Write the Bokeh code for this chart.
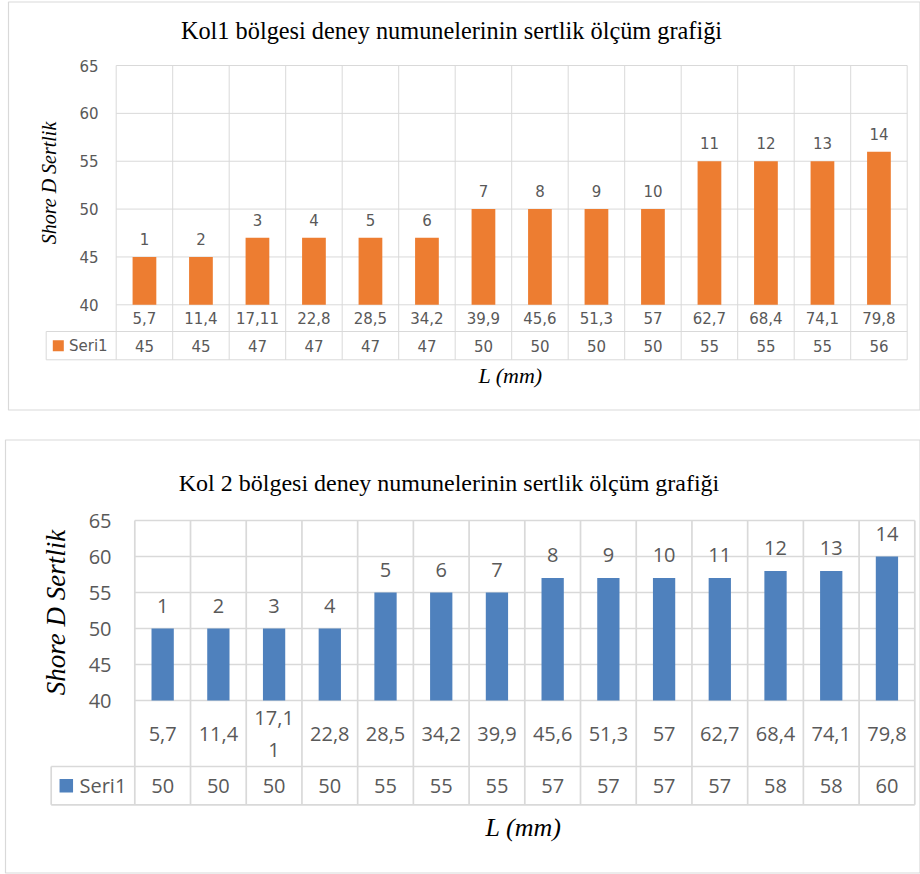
import math

from bokeh.core.properties import value
from bokeh.embed import file_html
from bokeh.models import Range1d
from bokeh.plotting import figure
from bokeh.resources import INLINE

# ---------------------------------------------------------------- data
kol1_title = "Kol1 bölgesi deney numunelerinin sertlik ölçüm grafiği"
kol2_title = "Kol 2 bölgesi deney numunelerinin sertlik ölçüm grafiği"

kol1_L = ["5,7", "11,4", "17,11", "22,8", "28,5", "34,2", "39,9",
          "45,6", "51,3", "57", "62,7", "68,4", "74,1", "79,8"]
kol1_hardness = [45, 45, 47, 47, 47, 47, 50, 50, 50, 50, 55, 55, 55, 56]

kol2_L = ["5,7", "11,4", "17,11", "22,8", "28,5", "34,2", "39,9",
          "45,6", "51,3", "57", "62,7", "68,4", "74,1", "79,8"]
kol2_hardness = [50, 50, 50, 50, 55, 55, 55, 57, 57, 57, 57, 58, 58, 60]

sample_ids = ["1", "2", "3", "4", "5", "6", "7",
              "8", "9", "10", "11", "12", "13", "14"]
y_ticks = [40, 45, 50, 55, 60, 65]
series_name = "Seri1"
y_title = "Shore D Sertlik"
x_title = "L (mm)"

# ---------------------------------------------------------------- page
W, H = 920, 874
GRID = "#D9D9D9"
TXT = "#595959"
SERIF = value("Liberation Serif")

p = figure(width=W, height=H, output_backend="svg", toolbar_location=None,
           x_axis_location=None, y_axis_location=None, min_border=0,
           outline_line_color=None, background_fill_color="white",
           border_fill_color="white",
           x_range=Range1d(0, W), y_range=Range1d(H, 0))
p.grid.visible = False

# chart layouts in page pixels (left, right, top, bottom)
kol1_layout = dict(
    box=(8, 919.5, 1.5, 409.5), plot=(115.7, 906.7, 65, 304.3),
    rows=(304.3, 331.0, 359.3), table_left=45.7,
    font=value("DejaVu Sans"), fsize="15px", grid_w=1.0,
    label_gap=-18, tick_right=98, swatch=(57.8, 11), seri_x=68.5,
    title_xy=(451, 30), title_size="24.3px",
    xt_xy=(510, 375), xt_size="22px", yt_xy=(48.5, 182.5), yt_size="20px",
    bar_w=0.42, wrap=99, line_h=1.2,
)
kol2_layout = dict(
    box=(5, 919.5, 439.5, 872.5), plot=(134.3, 914.3, 520, 700),
    rows=(700.0, 766.0, 804.3), table_left=50.7,
    font=value("Open Sans"), fsize="20px", grid_w=1.7,
    label_gap=-23, tick_right=111, swatch=(65.8, 13.5), seri_x=79,
    title_xy=(448.5, 482), title_size="24px",
    xt_xy=(523, 827), xt_size="26px", yt_xy=(55, 612), yt_size="27px",
    bar_w=0.40, wrap=4, line_h=1.22,
)


def wrap_label(s, n):
    return s if len(s) <= n else s[:n] + "\n" + s[n:]


def draw_chart(name, cfg, title, L, vals, color):
    n = len(vals)
    l, r, t, b = cfg["plot"]
    ymin, ymax = y_ticks[0], y_ticks[-1]

    # data ranges mapped onto this chart's plot box
    sx = (r - l) / n
    ky = (b - t) / (ymax - ymin)
    xr, yr = name + "_x", name + "_y"
    p.extra_x_ranges[xr] = Range1d(-l / sx, n + (W - r) / sx)
    p.extra_y_ranges[yr] = Range1d(ymin - (H - b) / ky, ymax + t / ky)

    # outer chart border
    bl, br, bt, bb = cfg["box"]
    p.quad(left=[bl], right=[br], top=[bt], bottom=[bb],
           fill_color=None, line_color=GRID, line_width=1.2)

    centers = [i + 0.5 for i in range(n)]
    bounds = list(range(n + 1))
    r0, r1, r2 = cfg["rows"]
    gw = cfg["grid_w"]

    # horizontal value grid
    p.segment(x0=[0] * len(y_ticks), x1=[n] * len(y_ticks), y0=y_ticks,
              y1=y_ticks, x_range_name=xr, y_range_name=yr,
              line_color=GRID, line_width=gw)
    # category column lines through plot and data table
    p.segment(x0=bounds, x1=bounds, y0=[t] * len(bounds),
              y1=[r2] * len(bounds), x_range_name=xr,
              line_color=GRID, line_width=gw)
    # data table rows
    tl = cfg["table_left"]
    p.segment(x0=[tl, tl], x1=[r, r], y0=[r1, r2], y1=[r1, r2],
              line_color=GRID, line_width=gw)
    p.segment(x0=[tl], x1=[tl], y0=[r1], y1=[r2],
              line_color=GRID, line_width=gw)

    # bars
    p.vbar(x=centers, top=vals, bottom=ymin, width=cfg["bar_w"],
           x_range_name=xr, y_range_name=yr,
           fill_color=color, line_color=None)

    font, fs = cfg["font"], cfg["fsize"]
    # sample numbers over the bars
    p.text(x=centers, y=vals, text=sample_ids, x_range_name=xr,
           y_range_name=yr, y_offset=cfg["label_gap"], text_align="center",
           text_baseline="middle", text_font=font, text_font_size=fs,
           text_color=TXT)
    # y tick labels
    p.text(x=[cfg["tick_right"]] * len(y_ticks), y=y_ticks,
           text=[str(v) for v in y_ticks], y_range_name=yr,
           text_align="right", text_baseline="middle", text_font=font,
           text_font_size=fs, text_color=TXT)
    # table: L values
    p.text(x=centers, y=[(r0 + r1) / 2] * n,
           text=[wrap_label(s, cfg["wrap"]) for s in L], x_range_name=xr,
           text_align="center", text_baseline="middle", text_font=font,
           text_font_size=fs, text_color=TXT,
           text_line_height=cfg["line_h"])
    # table: series values
    p.text(x=centers, y=[(r1 + r2) / 2] * n, text=[str(v) for v in vals],
           x_range_name=xr, text_align="center", text_baseline="middle",
           text_font=font, text_font_size=fs, text_color=TXT)
    # legend key in the table
    sxp, ssz = cfg["swatch"]
    p.rect(x=[sxp], y=[(r1 + r2) / 2], width=ssz, height=ssz,
           fill_color=color, line_color=None)
    p.text(x=[cfg["seri_x"]], y=[(r1 + r2) / 2], text=[series_name],
           text_align="left", text_baseline="middle", text_font=font,
           text_font_size=fs, text_color=TXT)

    # titles
    tx, ty = cfg["title_xy"]
    p.text(x=[tx], y=[ty], text=[title], text_align="center",
           text_baseline="middle", text_font=SERIF,
           text_font_size=cfg["title_size"], text_color="black")
    xx, xy = cfg["xt_xy"]
    p.text(x=[xx], y=[xy], text=[x_title], text_align="center",
           text_baseline="middle", text_font=SERIF, text_font_style="italic",
           text_font_size=cfg["xt_size"], text_color="black")
    yx, yy = cfg["yt_xy"]
    p.text(x=[yx], y=[yy], text=[y_title], angle=math.pi / 2,
           text_align="center", text_baseline="middle", text_font=SERIF,
           text_font_style="italic", text_font_size=cfg["yt_size"],
           text_color="black")


draw_chart("kol1", kol1_layout, kol1_title, kol1_L, kol1_hardness, "#ED7D31")
draw_chart("kol2", kol2_layout, kol2_title, kol2_L, kol2_hardness, "#4F81BD")

open("out.html", "w").write(file_html(p, INLINE))
